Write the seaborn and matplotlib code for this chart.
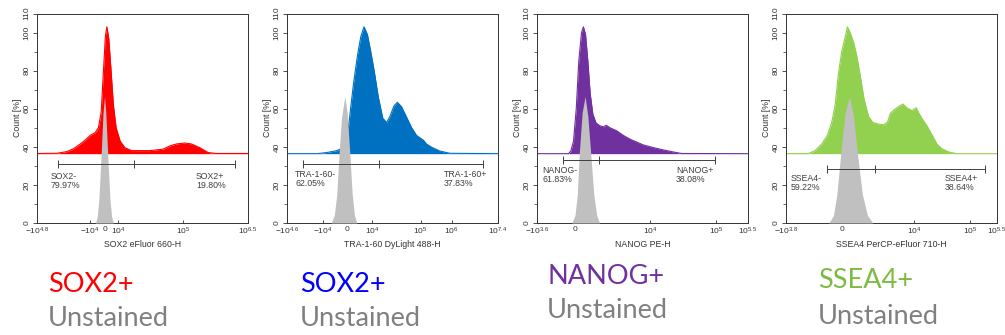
import seaborn as sns
import matplotlib.pyplot as plt
from matplotlib.ticker import MultipleLocator

# =========================
# DATA (x = position on the biexponential axis, 0..1)
# =========================

sox2_x = [0.0, 0.094, 0.142, 0.173, 0.205, 0.228, 0.252, 0.276, 0.291, 0.304, 0.315, 0.324, 0.331,
          0.340, 0.351, 0.362, 0.375, 0.394, 0.417, 0.449, 0.535, 0.598, 0.630, 0.661, 0.701, 0.732,
          0.772, 0.811, 0.850, 1.0]
sox2_y = [36.5, 36.6, 37.5, 39, 41.5, 43.5, 46, 47.5, 50, 58, 80, 98, 103,
          97, 80, 62, 50, 43, 39.5, 38, 38, 38.8, 40.5, 41.5, 42, 41.5,
          39.5, 37, 36.5, 36.5]
sox2_unst_x = [0.277, 0.285, 0.293, 0.304, 0.313, 0.320, 0.326, 0.335, 0.346, 0.354, 0.362]
sox2_unst_y = [0, 3, 12, 36, 58, 66.4, 58, 36, 12, 3, 0]

tra_x = [0.0, 0.142, 0.189, 0.236, 0.268, 0.291, 0.315, 0.334, 0.350, 0.365, 0.381, 0.397, 0.413,
         0.433, 0.454, 0.472, 0.488, 0.507, 0.523, 0.543, 0.567, 0.591, 0.614, 0.633, 0.646, 0.661,
         0.685, 0.724, 0.772, 1.0]
tra_y = [36.4, 36.4, 37, 38, 39.6, 50, 73, 88, 98, 103, 99, 90, 80,
         66, 55, 52.8, 56, 61.5, 63.4, 61, 55.5, 50, 46, 44.5, 43.5, 41.5,
         39.8, 37.8, 36.6, 36.4]
tra_unst_x = [0.209, 0.224, 0.236, 0.246, 0.258, 0.274, 0.285, 0.298, 0.309, 0.320, 0.331]
tra_unst_y = [0, 4, 15, 35, 55, 66.5, 58, 36, 15, 4, 0]

nanog_x = [0.0, 0.150, 0.161, 0.173, 0.186, 0.198, 0.211, 0.220, 0.230, 0.241, 0.252, 0.265, 0.280,
           0.299, 0.315, 0.328, 0.346, 0.378, 0.409, 0.441, 0.472, 0.504, 0.551, 0.598, 0.646,
           0.685, 1.0]
nanog_y = [36.4, 36.4, 38, 43, 60, 85, 100, 103, 99, 85, 68, 57, 52.5,
           51, 50.5, 51.3, 50, 48.4, 46, 44, 42.5, 41, 39.6, 38.4, 37.3,
           36.5, 36.4]
nanog_unst_x = [0.165, 0.180, 0.191, 0.200, 0.214, 0.228, 0.241, 0.255, 0.269, 0.283, 0.296]
nanog_unst_y = [0, 4, 15, 36, 58, 66.5, 56, 36, 15, 4, 0]

ssea4_x = [0.0, 0.106, 0.138, 0.169, 0.196, 0.217, 0.233, 0.248, 0.264, 0.280, 0.291, 0.304, 0.320,
           0.335, 0.351, 0.370, 0.391, 0.411, 0.438, 0.462, 0.481, 0.494, 0.513, 0.538, 0.554,
           0.573, 0.597, 0.617, 0.628, 0.644, 0.668, 0.691, 0.715, 0.739, 0.771, 0.810, 1.0]
ssea4_y = [36.4, 36.5, 38, 41.5, 46, 53, 62, 78, 90, 97.5, 103, 100, 95,
           88, 78, 65, 56, 52.8, 52, 51.5, 53, 57.5, 59.5, 61.5, 62.5,
           60.5, 59, 60.5, 58, 55, 51, 46.5, 41.5, 39, 37.3, 36.4, 36.4]
ssea4_unst_x = [0.203, 0.225, 0.241, 0.259, 0.280, 0.301, 0.320, 0.339, 0.362, 0.386, 0.411]
ssea4_unst_y = [0, 4, 15, 36, 58, 66.4, 56, 36, 15, 4, 0]

# tick positions / labels of each x axis
sox2_ticks = [0, 0.252, 0.324, 0.386, 0.693, 1.0]
sox2_ticklabels = ['$-10^{4.8}$', '$-10^{4}$', '0', '$10^{4}$', '$10^{5}$', '$10^{6.5}$']
tra_ticks = [0, 0.17, 0.283, 0.403, 0.633, 0.78, 1.0]
tra_ticklabels = ['$-10^{4.6}$', '$-10^{4}$', '0', '$10^{4}$', '$10^{5}$', '$10^{6}$', '$10^{7.4}$']
nanog_ticks = [0, 0.181, 0.535, 0.85, 1.0]
nanog_ticklabels = ['$-10^{3.6}$', '0', '$10^{4}$', '$10^{5}$', '$10^{5.5}$']
ssea4_ticks = [0, 0.264, 0.609, 0.873, 1.0]
ssea4_ticklabels = ['$-10^{3.8}$', '0', '$10^{4}$', '$10^{5}$', '$10^{5.5}$']

# gates: left, split, right, height
sox2_gate = [0.099, 0.46, 0.937, 31]
tra_gate = [0.076, 0.436, 0.929, 30.8]
nanog_gate = [0.121, 0.294, 0.843, 32.9]
ssea4_gate = [0.196, 0.424, 0.945, 28.5]

gate_names = [('SOX2-', '79.97%', 'SOX2+', '19.80%'),
              ('TRA-1-60-', '62.05%', 'TRA-1-60+', '37.83%'),
              ('NANOG-', '61.83%', 'NANOG+', '38.08%'),
              ('SSEA4-', '59.22%', 'SSEA4+', '38.64%')]
gate_label_x = [(0.066, 0.753), (0.039, 0.743), (0.024, 0.658), (0.022, 0.75)]
gate_label_y = [22, 23, 25, 21]

x_titles = ['SOX2 eFluor 660-H', 'TRA-1-60 DyLight 488-H', 'NANOG PE-H', 'SSEA4 PerCP-eFluor 710-H']
colors = ['#FF0000', '#0070C0', '#7030A0', '#92D050']

bottom_titles = ['SOX2+', 'SOX2+', 'NANOG+', 'SSEA4+']
bottom_colors = ['#FF0000', '#0000FF', '#7030A0', '#7DBB42']

# =========================
# FIGURE
# =========================

sns.set_style('white')
plt.rcParams['font.family'] = ['Liberation Sans', 'DejaVu Sans']
plt.rcParams['mathtext.fontset'] = 'custom'
plt.rcParams['mathtext.rm'] = 'Liberation Sans'
plt.rcParams['mathtext.it'] = 'Liberation Sans'

fig = plt.figure(figsize=(10.05, 3.35), dpi=100)

stained = [(sox2_x, sox2_y), (tra_x, tra_y), (nanog_x, nanog_y), (ssea4_x, ssea4_y)]
unstained = [(sox2_unst_x, sox2_unst_y), (tra_unst_x, tra_unst_y),
             (nanog_unst_x, nanog_unst_y), (ssea4_unst_x, ssea4_unst_y)]
ticks = [(sox2_ticks, sox2_ticklabels), (tra_ticks, tra_ticklabels),
         (nanog_ticks, nanog_ticklabels), (ssea4_ticks, ssea4_ticklabels)]
gates = [sox2_gate, tra_gate, nanog_gate, ssea4_gate]
lefts = [37, 287, 537, 786]
title_pos = [(48, 284, 319), (300, 284, 319), (547, 276, 311), (818, 281, 316)]

for i in range(4):
    ax = fig.add_axes([lefts[i] / 1005, 1 - 223 / 335, 211 / 1005, (223 - 13.5) / 335])
    sx, sy = stained[i]
    ux, uy = unstained[i]

    ax.fill_between(sx, 36.4, sy, color=colors[i], lw=0, zorder=1)
    sns.lineplot(x=sx, y=sy, color=colors[i], lw=0.8, ax=ax, zorder=2, sort=False)
    ax.fill_between(ux, 0, uy, color='#C0C0C0', lw=0, zorder=3)

    g = gates[i]
    ax.plot([g[0], g[2]], [g[3], g[3]], color='#404040', lw=0.7, zorder=4)
    ax.plot(g[:3], [g[3]] * 3, ls='none', marker='|', ms=6, mew=0.7, color='#404040', zorder=4)
    n = gate_names[i]
    lx = gate_label_x[i]
    ax.text(lx[0], gate_label_y[i], n[0] + '\n' + n[1], fontsize=6.3, color='#404040',
            va='center', ha='left', linespacing=1.0, zorder=5)
    ax.text(lx[1], gate_label_y[i], n[2] + '\n' + n[3], fontsize=6.3, color='#404040',
            va='center', ha='left', linespacing=1.0, zorder=5)

    ax.set_xlim(0, 1)
    ax.set_ylim(0, 110)
    ax.set_xticks(ticks[i][0])
    ax.set_xticklabels(ticks[i][1], fontsize=6, color='#333333')
    ax.set_yticks([0, 20, 40, 60, 80, 100, 110])
    ax.set_yticklabels(['0', '20', '40', '60', '80', '100', '110'], fontsize=6,
                       color='#333333', rotation=90, va='center')
    ax.yaxis.set_minor_locator(MultipleLocator(10))
    ax.tick_params(axis='y', which='major', direction='out', length=3, width=0.6, pad=1.5,
                   left=True, colors='#333333')
    ax.tick_params(axis='y', which='minor', direction='out', length=2, width=0.5, left=True,
                   colors='#333333')
    ax.tick_params(axis='x', which='major', direction='in', length=2.5, width=0.6, pad=2,
                   bottom=True, colors='#333333')
    ax.set_xlabel(x_titles[i], fontsize=6.3, color='#333333', labelpad=2)
    ax.set_ylabel('Count [%]', fontsize=6.3, color='#333333', labelpad=1)
    for s in ax.spines.values():
        s.set_visible(True)
        s.set_color('#333333')
        s.set_linewidth(0.7)

    tx, ty1, ty2 = title_pos[i]
    fig.text(tx / 1005, 1 - ty1 / 335, bottom_titles[i], fontsize=19.5, color=bottom_colors[i],
             family=['Lato', 'DejaVu Sans'], va='center', ha='left')
    fig.text(tx / 1005, 1 - ty2 / 335, 'Unstained', fontsize=19.5, color='#808080',
             family=['Lato', 'DejaVu Sans'], va='center', ha='left')

plt.savefig('out.png', dpi=100)
